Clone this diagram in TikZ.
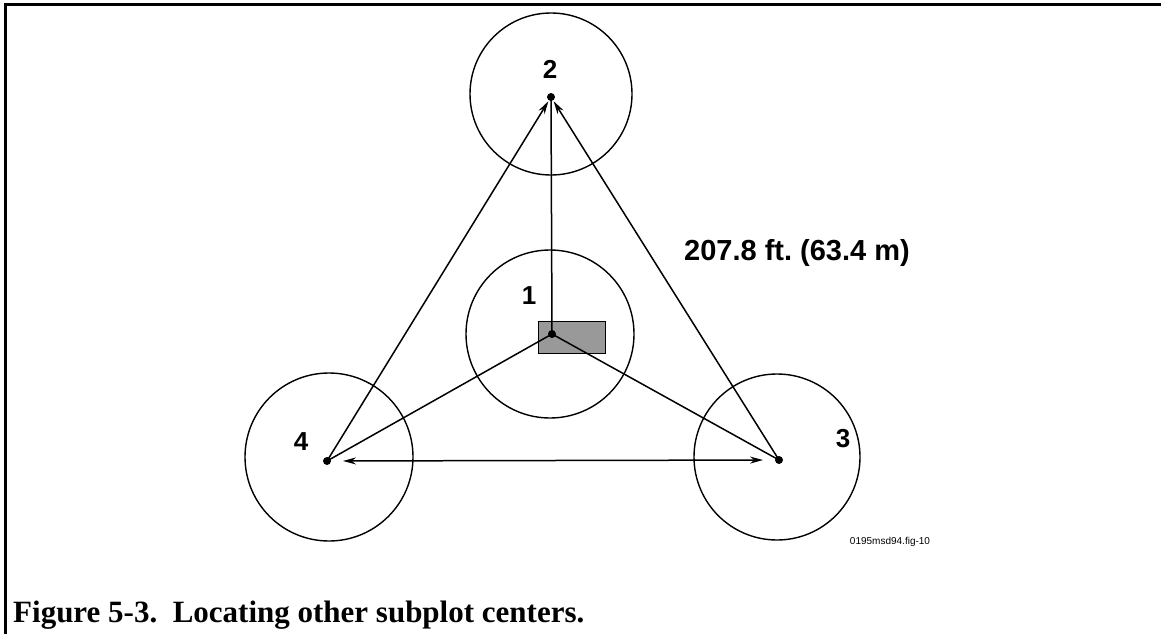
\documentclass[tikz,border=0pt]{standalone}
\usepackage{fontspec}
\setmainfont{Liberation Serif}
\newfontfamily\helv{Liberation Sans}
\usetikzlibrary{arrows.meta}
\begin{document}
\begin{tikzpicture}[x=1pt,y=-1pt,
  plotcircle/.style={circle,draw,line width=1.4pt,inner sep=0pt,minimum size=#1},
  centerdot/.style={circle,fill,inner sep=0pt,minimum size=8pt},
  numlabel/.style={font=\helv\bfseries\fontsize{26}{30}\selectfont,inner sep=0pt},
  link/.style={line width=1.5pt},
  tip/.style={-{Stealth[length=13pt,width=7pt]}},
  frameline/.style={line width=3pt}]
\useasboundingbox (0,0) rectangle (1161,634);
\coordinate (tl) at (5,5);
\coordinate (tr) at (1161,5);
\coordinate (bl) at (5,634);
\draw[frameline] (bl) -- (tl) -- (tr);
% circles
\node[plotcircle=162pt] (c2) at (551,94) {};
\node[plotcircle=168pt] (c1) at (550,334) {};
\node[plotcircle=168pt] (c4) at (329,457) {};
\node[plotcircle=166pt] (c3) at (777,457) {};
% rectangle
\node[draw,line width=1pt,fill=black!40,minimum width=67pt,minimum height=32pt,inner sep=0pt] (rect) at (571.5,337) {};
% dots
\node[centerdot] (d2) at (551,97) {};
\node[centerdot] (d1) at (552,334) {};
\node[centerdot] (d4) at (327,461) {};
\node[centerdot] (d3) at (779,460) {};
% connectors
\draw[link] (d1.center) -- (d2.center);
\draw[link] (d1.center) -- (d4.center);
\draw[link] (d1.center) -- (d3.center);
\draw[link,tip,shorten >=5pt] (d4.center) -- (d2.center);
\draw[link,tip,shorten >=5pt] (d3.center) -- (d2.center);
\draw[link,{Stealth[length=13pt,width=7pt]}-{Stealth[length=13pt,width=7pt]},shorten <=16pt,shorten >=16pt] (d4.center) -- (d3.center);
% labels
\node[numlabel] (l2) at (550,69) {2};
\node[numlabel] (l1) at (529,296) {1};
\node[numlabel] (l4) at (301,442) {4};
\node[numlabel] (l3) at (843,439) {3};
\node[font=\helv\bfseries\fontsize{29}{34}\selectfont,inner sep=0pt] (dist) at (797,253) {207.8 ft.\ (63.4 m)};
\node[font=\helv\fontsize{10}{12}\selectfont,inner sep=0pt] (fig) at (890,542) {0195msd94.fig-10};
\node[font=\bfseries\fontsize{31}{36}\selectfont,inner sep=0pt,anchor=base west] (cap) at (13,622) {Figure 5-3.\ \ Locating other subplot centers.};
\end{tikzpicture}
\end{document}
